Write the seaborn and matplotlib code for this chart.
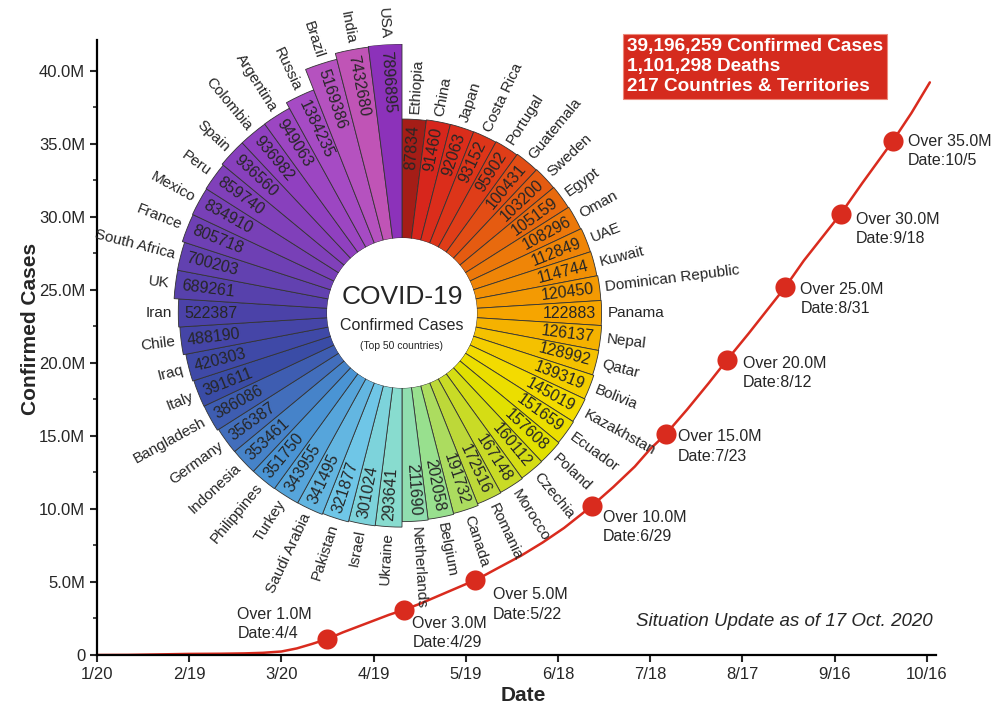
import numpy as np
import pandas as pd
import matplotlib
matplotlib.use('Agg')
import matplotlib.pyplot as plt
import matplotlib.ticker as mticker
from matplotlib.colors import LinearSegmentedColormap
import seaborn as sns

# --- global cumulative confirmed cases (millions)
curve_dates = ['2020-01-20', '2020-01-30', '2020-02-09', '2020-02-19', '2020-02-29',
               '2020-03-08', '2020-03-14', '2020-03-20', '2020-03-25', '2020-03-30',
               '2020-04-04', '2020-04-09', '2020-04-14', '2020-04-19', '2020-04-24',
               '2020-04-29', '2020-05-04', '2020-05-09', '2020-05-14', '2020-05-19',
               '2020-05-22', '2020-05-29', '2020-06-06', '2020-06-13', '2020-06-20',
               '2020-06-29', '2020-07-06', '2020-07-13', '2020-07-18', '2020-07-23',
               '2020-07-30', '2020-08-06', '2020-08-12', '2020-08-19', '2020-08-25',
               '2020-08-31', '2020-09-06', '2020-09-12', '2020-09-18', '2020-09-25',
               '2020-10-05', '2020-10-11', '2020-10-17']
curve_cases = [0.0003, 0.008, 0.04, 0.075, 0.086,
               0.11, 0.15, 0.24, 0.45, 0.76,
               1.1, 1.55, 1.95, 2.35, 2.75,
               3.1, 3.5, 3.95, 4.4, 4.85,
               5.1, 5.9, 6.8, 7.7, 8.7,
               10.2, 11.5, 12.9, 14.1, 15.1,
               16.8, 18.6, 20.2, 22.0, 23.6,
               25.2, 27.0, 28.6, 30.2, 32.3,
               35.2, 37.1, 39.2]

# --- milestones
milestone_dates = ['2020-04-04', '2020-04-29', '2020-05-22', '2020-06-29', '2020-07-23',
                   '2020-08-12', '2020-08-31', '2020-09-18', '2020-10-05']
milestone_cases = [1.1, 3.1, 5.1, 10.2, 15.1, 20.2, 25.2, 30.2, 35.2]
milestone_levels = ['1.0M', '3.0M', '5.0M', '10.0M', '15.0M', '20.0M', '25.0M', '30.0M', '35.0M']
milestone_days = ['4/4', '4/29', '5/22', '6/29', '7/23', '8/12', '8/31', '9/18', '10/5']

# --- top 50 countries (clockwise from 12 o'clock)
countries = ['Ethiopia', 'China', 'Japan', 'Costa Rica', 'Portugal', 'Guatemala', 'Sweden',
             'Egypt', 'Oman', 'UAE', 'Kuwait', 'Dominican Republic', 'Panama', 'Nepal',
             'Qatar', 'Bolivia', 'Kazakhstan', 'Ecuador', 'Poland', 'Czechia', 'Morocco',
             'Romania', 'Canada', 'Belgium', 'Netherlands', 'Ukraine', 'Israel', 'Pakistan',
             'Saudi Arabia', 'Turkey', 'Philippines', 'Indonesia', 'Germany', 'Bangladesh',
             'Italy', 'Iraq', 'Chile', 'Iran', 'UK', 'South Africa', 'France', 'Mexico',
             'Peru', 'Spain', 'Colombia', 'Argentina', 'Russia', 'Brazil', 'India', 'USA']
country_cases = [87834, 91460, 92063, 93152, 95902, 100431, 103200,
                 105159, 108296, 112849, 114744, 120450, 122883, 126137,
                 128992, 139319, 145019, 151659, 157608, 160112, 167148,
                 172516, 191732, 202058, 211690, 293641, 301024, 321877,
                 341495, 343955, 351750, 353461, 356387, 386086,
                 391611, 420303, 488190, 522387, 689261, 700203, 805718, 834910,
                 859740, 936560, 936982, 949063, 1384235, 5169386, 7432680, 7896895]

summary_lines = ['39,196,259 Confirmed Cases', '1,101,298 Deaths', '217 Countries & Territories']
update_note = 'Situation Update as of 17 Oct. 2020'
tick_dates = pd.date_range('2020-01-20', periods=10, freq='30D')

RED = '#d92b1e'

sns.set_style('ticks')
plt.rcParams['font.family'] = ['Liberation Sans', 'DejaVu Sans']

fig = plt.figure(figsize=(9.93, 7.05), dpi=100)
ax = fig.add_axes([97 / 993, 50 / 705, 839 / 993, 615 / 705])

sns.lineplot(x=pd.to_datetime(curve_dates), y=curve_cases, ax=ax, color=RED,
             linewidth=1.8, zorder=2)
sns.scatterplot(x=pd.to_datetime(milestone_dates), y=milestone_cases, ax=ax, color=RED,
                s=210, linewidth=0, zorder=3)

# text offsets in pixels for each milestone label
label_offsets = [(-90, 15), (8, -23), (18, -24), (11, -21), (12, -12),
                 (16, -13), (15, -12), (15, -15), (15, -10)]
for d, v, lev, day, off in zip(milestone_dates, milestone_cases, milestone_levels,
                               milestone_days, label_offsets):
    ax.annotate(f'Over {lev}\nDate:{day}', xy=(pd.Timestamp(d), v), xytext=off,
                textcoords='offset pixels', ha='left', va='center', fontsize=11.5,
                linespacing=1.35, zorder=4)

ax.set_xlim(pd.Timestamp('2020-01-20'), pd.Timestamp('2020-10-19'))
ax.set_ylim(0, 42.1)
ax.set_xticks(tick_dates)
ax.set_xticklabels([f'{d.month}/{d.day}' for d in tick_dates])
ax.yaxis.set_major_locator(mticker.MultipleLocator(5))
ax.yaxis.set_minor_locator(mticker.MultipleLocator(2.5))
ax.yaxis.set_major_formatter(mticker.FuncFormatter(lambda v, p: '0' if v == 0 else f'{v:.1f}M'))
ax.tick_params(axis='both', which='major', labelsize=12, length=5, width=1.5, direction='out')
ax.tick_params(axis='y', which='minor', length=3, width=1.2, direction='out')
for s in ['left', 'bottom']:
    ax.spines[s].set_linewidth(1.6)
    ax.spines[s].set_color('black')
sns.despine(ax=ax)
ax.set_xlabel('Date', fontsize=15, fontweight='bold')
ax.set_ylabel('Confirmed Cases', fontsize=15, fontweight='bold')
ax.xaxis.set_label_coords(0.508, -0.05)
ax.yaxis.set_label_coords(-0.068, 0.53)

# --- circular bar chart
axp = fig.add_axes([(402 - 269) / 993, (392 - 269) / 705, 538 / 993, 538 / 705],
                   projection='polar')
axp.set_theta_zero_location('N')
axp.set_theta_direction(-1)
logv = np.log10(country_cases)
hole = 1.846
axp.set_rorigin(-0.107)
axp.set_ylim(hole, logv.max())
axp.axis('off')

n = len(countries)
width = 2 * np.pi / n
theta = (np.arange(n) + 0.5) * width

anchors = [(0, '#a51d17'), (1, '#d9261c'), (4, '#df3e18'), (8, '#ec7a0a'), (12, '#f6a600'),
           (16, '#f3dc00'), (18, '#e2e000'), (21, '#bcd83a'), (23, '#98e08c'), (25, '#88dcd0'),
           (27, '#70c8e8'), (30, '#4a94d4'), (34, '#3a4ca6'), (37, '#4a42a8'),
           (40, '#6e40b4'), (44, '#9040c0'), (46, '#a44ac4'), (47, '#b452c0'),
           (48, '#c255b6'), (49, '#8c32ba')]
cmap = LinearSegmentedColormap.from_list('covid', [(i / (n - 1), c) for i, c in anchors])
colors = [cmap(i / (n - 1)) for i in range(n)]

axp.bar(theta, logv - hole, width=width, bottom=hole, color=colors,
        edgecolor='#333333', linewidth=0.6)

px = 1 / 38.4
for th, name, v, lv in zip(theta, countries, country_cases, logv):
    deg = 90 - np.degrees(th)
    deg = (deg + 180) % 360 - 180
    if -90 < deg <= 90:
        rot, ha_num, ha_name = deg, 'right', 'left'
    else:
        rot = deg - 180 if deg > 90 else deg + 180
        ha_num, ha_name = 'left', 'right'
    axp.text(th, lv - 6 * px, str(v), rotation=rot, rotation_mode='anchor',
             ha=ha_num, va='center', fontsize=11.5, clip_on=False)
    axp.text(th, lv + 6 * px, name, rotation=rot, rotation_mode='anchor',
             ha=ha_name, va='center', fontsize=11, clip_on=False)

axp.text(0.5, 0.53, 'COVID-19', transform=axp.transAxes, ha='center', va='center', fontsize=19)
axp.text(0.5, 0.476, 'Confirmed Cases', transform=axp.transAxes, ha='center', va='center',
         fontsize=11.5)
axp.text(0.5, 0.439, '(Top 50 countries)', transform=axp.transAxes, ha='center',
         va='center', fontsize=7.5)

fig.text(627 / 993, 1 - 38 / 705, '\n'.join(summary_lines), color='white',
         fontweight='bold', fontsize=13.7, ha='left', va='top', linespacing=1.22,
         bbox=dict(boxstyle='square,pad=0.2', fc='#d52b1e', ec='#ec8a7c', lw=0.8))
fig.text(933 / 993, 1 - 621 / 705, update_note, ha='right', va='center',
         style='italic', fontsize=13.5)

fig.savefig('out.png', dpi=100)
